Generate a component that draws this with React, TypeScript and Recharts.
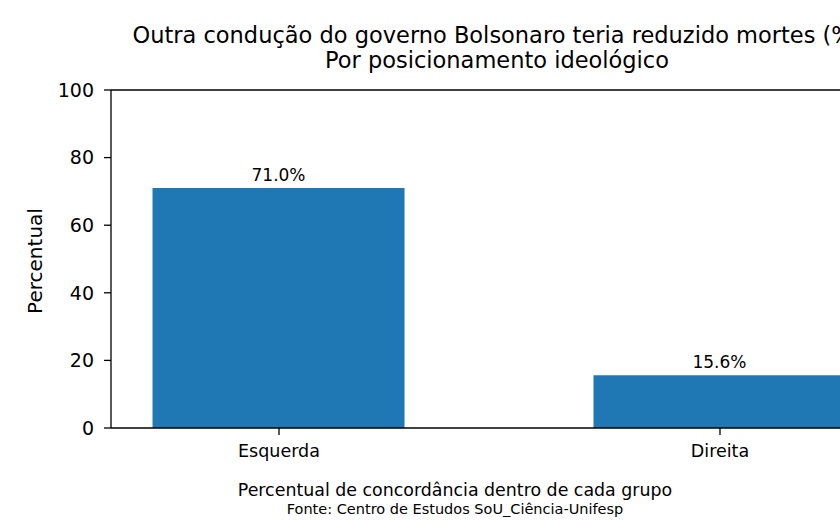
import React from 'react';
import { BarChart, Bar, XAxis, YAxis, ReferenceLine, LabelList } from 'recharts';

// Share of respondents who agree, per ideological group
const categories = ['Esquerda', 'Direita'];
const agreement = [71.0, 15.6];
const yTicks = [0, 20, 40, 60, 80, 100];
const xPositions = [0, 1];

const titleLines = [
  'Outra condução do governo Bolsonaro teria reduzido mortes (%)',
  'Por posicionamento ideológico',
];
const xLabel = 'Percentual de concordância dentro de cada grupo';
const sourceNote = 'Fonte: Centro de Estudos SoU_Ciência-Unifesp';
const yLabel = 'Percentual';

const data = categories.map((name, i) => ({ pos: xPositions[i], name, value: agreement[i] }));

const FONT = '"DejaVu Sans", sans-serif';
const BAR_COLOR = '#1f77b4';

export default function App() {
  return (
    <div
      style={{
        position: 'fixed',
        left: 0,
        top: 0,
        width: 840,
        height: 520,
        overflow: 'hidden',
        background: '#fff',
        fontFamily: FONT,
      }}
    >
      <BarChart
        width={900}
        height={520}
        data={data}
        margin={{ top: 90, right: 12, bottom: 32, left: 0 }}
        style={{ fontFamily: FONT }}
      >
        <XAxis
          type="number"
          dataKey="pos"
          domain={[-0.381, 1.381]}
          ticks={xPositions}
          allowDataOverflow
          height={60}
          tickFormatter={(v: number) => categories[v] ?? ''}
          tick={{ fontSize: 17.5, fill: '#000', fontFamily: FONT }}
          tickSize={7}
          tickMargin={10}
          axisLine={{ stroke: '#000', strokeWidth: 1.3 }}
          tickLine={{ stroke: '#000', strokeWidth: 1.3 }}
        />
        <YAxis
          type="number"
          domain={[0, 100]}
          ticks={yTicks}
          width={111}
          tick={{ fontSize: 19, fill: '#000', fontFamily: FONT }}
          tickSize={7}
          tickMargin={10}
          axisLine={{ stroke: '#000', strokeWidth: 1.3 }}
          tickLine={{ stroke: '#000', strokeWidth: 1.3 }}
        />
        <ReferenceLine y={100} stroke="#000" strokeWidth={1.3} ifOverflow="visible" />
        <Bar dataKey="value" fill={BAR_COLOR} barSize={252} isAnimationActive={false}>
          <LabelList
            dataKey="value"
            position="top"
            offset={7}
            formatter={(v: number) => `${Number(v).toFixed(1)}%`}
            style={{ fontSize: 17, fill: '#000', fontFamily: FONT }}
          />
        </Bar>
      </BarChart>
      <svg
        width={840}
        height={520}
        style={{ position: 'absolute', left: 0, top: 0, pointerEvents: 'none' }}
      >
        <g fontFamily={FONT} fill="#000">
          <text x={497} y={43} fontSize={22.5} textAnchor="middle">
            {titleLines[0]}
          </text>
          <text x={497} y={68} fontSize={22.5} textAnchor="middle">
            {titleLines[1]}
          </text>
          <text x={455} y={496} fontSize={17.4} textAnchor="middle">
            {xLabel}
          </text>
          <text x={455} y={514} fontSize={14.5} textAnchor="middle">
            {sourceNote}
          </text>
          <text x={42} y={261} fontSize={20} textAnchor="middle" transform="rotate(-90 42 261)">
            {yLabel}
          </text>
        </g>
      </svg>
    </div>
  );
}
